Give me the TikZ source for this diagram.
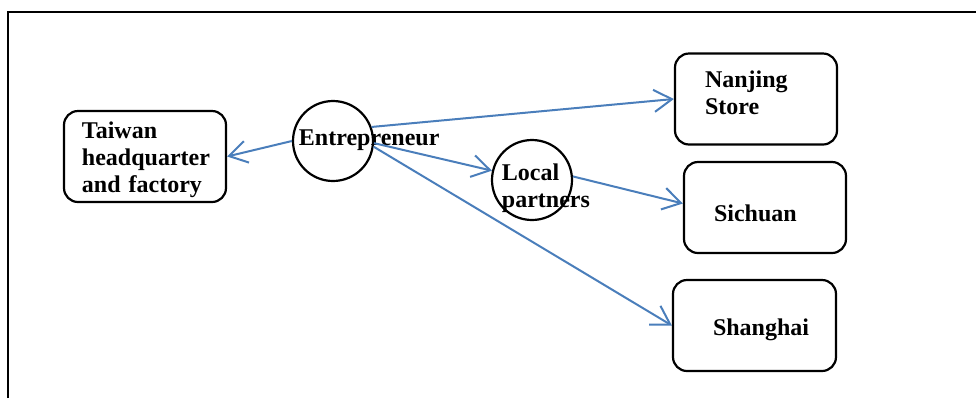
\documentclass[tikz,border=0pt]{standalone}
\usepackage{fontspec}
\setmainfont{Liberation Serif}
\usetikzlibrary{arrows.meta}
\definecolor{linkblue}{HTML}{4A7EBB}

\begin{document}
\begin{tikzpicture}[x=0.5pt,y=-0.5pt,
    font=\fontsize{12pt}{13.5pt}\selectfont\bfseries,
    place/.style={draw,line width=1.1pt,rounded corners=7pt,align=left,minimum height=45.5pt},
    actor/.style={draw,circle,line width=1.1pt,minimum size=40pt,inner sep=0pt},
    link/.style={draw=linkblue,line width=1pt,-{Straight Barb[length=9pt,width=11pt]}}]
    \useasboundingbox (0,0) rectangle (976,398);
    \draw[line width=0.75pt] (8,398) -- (8,12) -- (976,12);

    \node[place,inner xsep=9pt,inner ysep=1pt,text width=63pt,text height=11.5pt] (taiwan) at (145,156.5) {Taiwan\\headquarter\\and factory};
    \node[place,inner xsep=15pt,text width=51pt,text depth=20pt] (nanjing) at (756,99) {Nanjing\\Store};
    \node[place,inner xsep=15pt,text width=51pt,text height=14pt] (sichuan) at (765,207.5) {Sichuan};
    \node[place,inner xsep=20pt,text width=41.5pt,text height=13pt] (shanghai) at (754.5,325.5) {Shanghai};

    \node[actor,label={[anchor=west,yshift=0.5pt]west:Entrepreneur}] (ent) at (333,141) {};
    \node[actor,label={[anchor=west,align=left,xshift=2pt,yshift=-4pt]west:Local\\partners}] (local) at (532,180) {};

    \draw[link] (ent.west) -- (taiwan.east);
    \draw[link] (ent.20) -- (nanjing.west);
    \draw[link] (ent.-3) -- (local);
    \draw[link] (ent.-8) -- (shanghai.west);
    \draw[link] (local.5) -- ([yshift=2pt]sichuan.west);
\end{tikzpicture}
\end{document}
